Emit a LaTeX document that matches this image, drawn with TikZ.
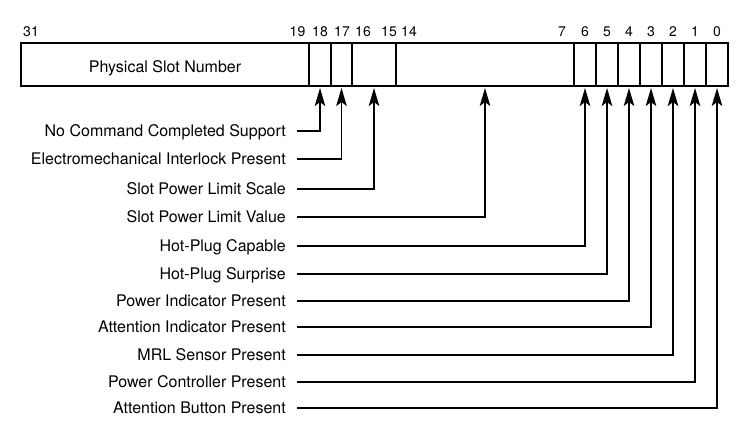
\documentclass[tikz,border=0pt]{standalone}
\usepackage{fontspec}
\setmainfont{TeX Gyre Heros}
\usetikzlibrary{arrows.meta}
\begin{document}
\begin{tikzpicture}[x=1bp,y=-1bp,
  field/.style={draw, line width=1.2bp, minimum height=43bp, inner sep=0pt, outer sep=0pt, anchor=north west},
  bitno/.style={anchor=base, inner sep=0pt, font=\fontsize{14bp}{16bp}\selectfont},
  lbl/.style={anchor=east, inner sep=0pt, text height=11.6bp, text depth=0pt, font=\fontsize{16bp}{19bp}\selectfont},
  conn/.style={line width=1.9bp, -{Stealth[length=18bp,width=10.5bp,inset=4bp]}, shorten >=2bp}
]
\useasboundingbox (0,0) rectangle (749,427);

% register fields
\node[field, minimum width=288bp, text height=16.2bp, text depth=0pt,
      font=\fontsize{16bp}{19bp}\selectfont] (f31) at (21,43) {Physical Slot Number};
\node[field, minimum width=22bp]  (f18)  at (309,43) {};
\node[field, minimum width=21bp]  (f17)  at (331,43) {};
\node[field, minimum width=44bp]  (f1615) at (352,43) {};
\node[field, minimum width=178bp] (f147) at (396,43) {};
\node[field, minimum width=22bp]  (f6)   at (574,43) {};
\node[field, minimum width=22bp]  (f5)   at (596,43) {};
\node[field, minimum width=22bp]  (f4)   at (618,43) {};
\node[field, minimum width=22bp]  (f3)   at (640,43) {};
\node[field, minimum width=22bp]  (f2)   at (662,43) {};
\node[field, minimum width=22bp]  (f1)   at (684,43) {};
\node[field, minimum width=22bp]  (f0)   at (706,43) {};
\draw[line width=2bp] (f31.north west) rectangle (f0.south east);

% bit numbers
\node[bitno] (n31) at (31,36.5) {31};
\node[bitno] (n19) at (297.5,36.5) {19};
\node[bitno] (n18) at (320,36.5) {18};
\node[bitno] (n17) at (342,36.5) {17};
\node[bitno] (n16) at (363,36.5) {16};
\node[bitno] (n15) at (389,36.5) {15};
\node[bitno] (n14) at (409,36.5) {14};
\node[bitno] (n7)  at (562,36.5) {7};
\node[bitno] (n6)  at (585,36.5) {6};
\node[bitno] (n5)  at (607,36.5) {5};
\node[bitno] (n4)  at (629,36.5) {4};
\node[bitno] (n3)  at (651,36.5) {3};
\node[bitno] (n2)  at (673,36.5) {2};
\node[bitno] (n1)  at (695,36.5) {1};
\node[bitno] (n0)  at (717,36.5) {0};

% labels
\node[lbl] (l1)  at (286,131) {No Command Completed Support};
\node[lbl] (l2)  at (286,159) {Electromechanical Interlock Present};
\node[lbl] (l3)  at (286,189) {Slot Power Limit Scale};
\node[lbl] (l4)  at (286,217) {Slot Power Limit Value};
\node[lbl] (l5)  at (286,246) {Hot-Plug Capable};
\node[lbl] (l6)  at (286,274) {Hot-Plug Surprise};
\node[lbl] (l7)  at (286,301) {Power Indicator Present};
\node[lbl] (l8)  at (286,327) {Attention Indicator Present};
\node[lbl] (l9)  at (286,355) {MRL Sensor Present};
\node[lbl] (l10) at (286,382) {Power Controller Present};
\node[lbl] (l11) at (286,408) {Attention Button Present};

% connectors
\draw[conn] ([xshift=11bp]l1.east)  -| (f18.south);
\draw[conn] ([xshift=11bp]l2.east)  -| (f17.south);
\draw[conn] ([xshift=11bp]l3.east)  -| (f1615.south);
\draw[conn] ([xshift=11bp]l4.east)  -| (f147.south);
\draw[conn] ([xshift=11bp]l5.east)  -| (f6.south);
\draw[conn] ([xshift=11bp]l6.east)  -| (f5.south);
\draw[conn] ([xshift=11bp]l7.east)  -| (f4.south);
\draw[conn] ([xshift=11bp]l8.east)  -| (f3.south);
\draw[conn] ([xshift=11bp]l9.east)  -| (f2.south);
\draw[conn] ([xshift=11bp]l10.east) -| (f1.south);
\draw[conn] ([xshift=11bp]l11.east) -| (f0.south);
\end{tikzpicture}
\end{document}
